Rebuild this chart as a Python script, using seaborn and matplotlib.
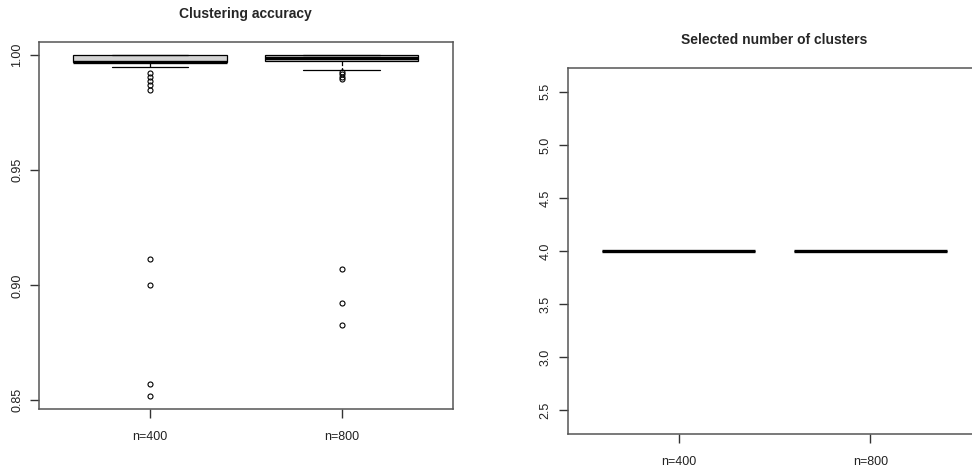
import matplotlib
matplotlib.use("Agg")
import matplotlib.pyplot as plt
import pandas as pd
import seaborn as sns
import numpy as np


# sample sizes shown on the x axis
groups = ["n=400", "n=800"]

# clustering accuracy, reconstructed as distinct values and how often each occurs
acc_400_values = [0.8520, 0.8570, 0.9001, 0.9113, 0.9850, 0.9869, 0.9887, 0.9906, 0.9922,
                  0.9948, 0.9970, 0.9972, 1.0000]
acc_400_counts = [1, 1, 1, 1, 1, 1, 1, 1, 1, 1, 21, 30, 39]

acc_800_values = [0.8827, 0.8923, 0.9071, 0.9897, 0.9907, 0.9917, 0.9928,
                  0.9937, 0.9974, 0.9986, 1.0000]
acc_800_counts = [1, 1, 1, 1, 1, 1, 1, 1, 33, 20, 39]

# selected number of clusters (always 4)
k_400 = [4, 4, 4, 4, 4, 4, 4, 4, 4, 4]
k_800 = [4, 4, 4, 4, 4, 4, 4, 4, 4, 4]

acc_ticks = [0.85, 0.90, 0.95, 1.00]
k_ticks = [2.5, 3.0, 3.5, 4.0, 4.5, 5.0, 5.5]


def build_frames():
    acc = pd.DataFrame({
        "n": [groups[0]] * sum(acc_400_counts) + [groups[1]] * sum(acc_800_counts),
        "accuracy": np.concatenate([np.repeat(acc_400_values, acc_400_counts),
                                    np.repeat(acc_800_values, acc_800_counts)]),
    })
    k = pd.DataFrame({
        "n": [groups[0]] * len(k_400) + [groups[1]] * len(k_800),
        "clusters": k_400 + k_800,
    })
    return acc, k


def style_axis(ax, ticks, labels):
    ax.set_xlabel("")
    ax.set_ylabel("")
    ax.set_xlim(-0.58, 1.58)
    ax.set_yticks(ticks)
    ax.set_yticklabels(labels, rotation=90, va="center")
    for s in ax.spines.values():
        s.set_visible(True)
        s.set_color("#555555")
        s.set_linewidth(1.1)
    ax.tick_params(axis="both", direction="out", length=6.5, width=1, color="#333333",
                   labelsize=9, labelcolor="#222222")
    ax.tick_params(axis="y", pad=5)
    ax.tick_params(axis="x", pad=9)


def main():
    sns.set_style("ticks")
    plt.rcParams["font.family"] = ["Liberation Sans", "DejaVu Sans"]

    acc, k = build_frames()

    fig = plt.figure(figsize=(9.72, 4.68), dpi=100)
    ax1 = fig.add_axes([0.0401, 0.1254, 0.4256, 0.7855])
    ax2 = fig.add_axes([0.5841, 0.0720, 0.4256, 0.7833])

    box_kw = dict(width=0.8, color="#d3d3d3", saturation=1, linecolor="black", linewidth=0.9,
                  medianprops=dict(color="black", linewidth=2.4, solid_capstyle="butt"),
                  whiskerprops=dict(linestyle="--", color="black", linewidth=0.9),
                  capprops=dict(color="black", linewidth=0.9),
                  flierprops=dict(marker="o", markerfacecolor="none", markeredgecolor="black",
                                  markersize=3.6, markeredgewidth=0.8))

    sns.boxplot(data=acc, x="n", y="accuracy", order=groups, ax=ax1, **box_kw)
    ax1.set_ylim(0.8461, 1.0059)
    style_axis(ax1, acc_ticks, ["0.85", "0.90", "0.95", "1.00"])
    ax1.set_title("Clustering accuracy", fontsize=10, fontweight="bold", pad=17)

    sns.boxplot(data=k, x="n", y="clusters", order=groups, ax=ax2, **box_kw)
    ax2.set_ylim(2.272, 5.728)
    style_axis(ax2, k_ticks, [f"{t:.1f}" for t in k_ticks])
    ax2.set_title("Selected number of clusters", fontsize=10, fontweight="bold", pad=17)

    fig.savefig("out.png", dpi=100)


if __name__ == "__main__":
    main()
